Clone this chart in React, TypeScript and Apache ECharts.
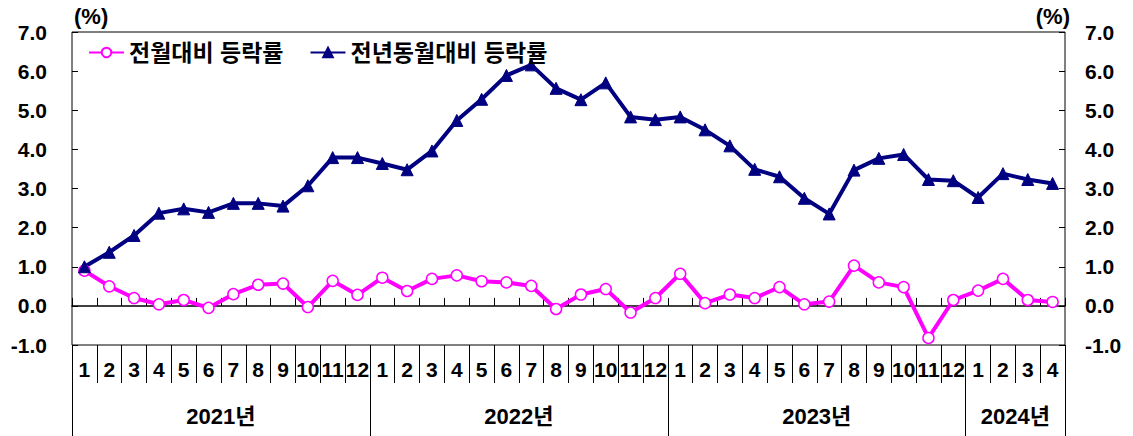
import React, { useEffect, useRef } from "react";
import * as echarts from "echarts";

const months: string[] = [
  "1","2","3","4","5","6","7","8","9","10","11","12",
  "1","2","3","4","5","6","7","8","9","10","11","12",
  "1","2","3","4","5","6","7","8","9","10","11","12",
  "1","2","3","4",
];
const yearLabels: string[] = ["2021년", "2022년", "2023년", "2024년"];
const yearCenters: number[] = [6, 18, 30, 38];
const yearBounds: number[] = [0, 12, 24, 36, 40];

const momChange: number[] = [
  0.9, 0.5, 0.2, 0.04, 0.15, -0.05, 0.3, 0.54, 0.57, -0.03, 0.64, 0.28,
  0.72, 0.38, 0.69, 0.78, 0.63, 0.6, 0.51, -0.08, 0.29, 0.43, -0.17, 0.2,
  0.82, 0.07, 0.29, 0.2, 0.48, 0.04, 0.11, 1.03, 0.6, 0.48, -0.82, 0.15,
  0.39, 0.69, 0.15, 0.1,
];
const yoyChange: number[] = [
  1.0, 1.37, 1.8, 2.37, 2.48, 2.39, 2.62, 2.62, 2.55, 3.07, 3.79, 3.79,
  3.64, 3.48, 3.96, 4.74, 5.28, 5.89, 6.16, 5.56, 5.27, 5.7, 4.83, 4.76,
  4.83, 4.5, 4.09, 3.49, 3.3, 2.75, 2.35, 3.47, 3.77, 3.87, 3.23, 3.2,
  2.77, 3.38, 3.23, 3.13,
];
const yTicks = { min: -1, max: 7, interval: 1 };

const FONT = '"Liberation Sans", Arial, "Noto Sans CJK KR", sans-serif';

export default function App() {
  const ref = useRef<HTMLDivElement>(null);
  useEffect(() => {
    document.body.style.margin = "0";
    if (!ref.current) return;
    const chart = echarts.init(ref.current, null, { renderer: "svg" });
    const yAxisBase = (pos: "left" | "right", margin: number) => ({
      type: "value",
      position: pos,
      min: yTicks.min,
      max: yTicks.max,
      interval: yTicks.interval,
      name: "(%)",
      nameLocation: "end",
      nameGap: 5,
      nameTextStyle: {
        fontFamily: FONT,
        fontWeight: "bold",
        fontSize: 22,
        color: "#000",
        align: pos === "left" ? "left" : "right",
        padding: pos === "left" ? [0, 0, 0, 2] : [0, -5, 0, 0],
      },
      axisLine: { show: false, onZero: false },
      axisTick: { show: true, inside: true, length: 6, lineStyle: { color: "#000" } },
      splitLine: { show: false },
      axisLabel: {
        margin: margin,
        fontFamily: FONT,
        fontWeight: "bold",
        fontSize: 21,
        color: "#000",
        formatter: (v: number) => v.toFixed(1),
      },
    });
    chart.setOption({
      animation: false,
      textStyle: { fontFamily: FONT },
      grid: {
        left: 72,
        right: 68,
        top: 32,
        bottom: 91,
        show: true,
        borderColor: "#000",
        borderWidth: 1,
      },
      legend: {
        left: 83,
        top: 36,
        itemWidth: 35,
        itemHeight: 12,
        itemGap: 26,
        textStyle: {
          fontFamily: FONT,
          fontWeight: "bold",
          fontSize: 23,
          color: "#000",
        },
        data: ["전월대비 등락률", "전년동월대비 등락률"],
      },
      xAxis: [
        {
          type: "category",
          data: months,
          position: "bottom",
          boundaryGap: true,
          axisLine: { show: true, onZero: true, lineStyle: { color: "#000", width: 1.5 } },
          axisTick: { show: true, inside: true, length: 8, lineStyle: { color: "#000" } },
          axisLabel: { show: false },
          splitLine: { show: false },
        },
        {
          type: "category",
          data: months,
          position: "bottom",
          boundaryGap: true,
          axisLine: { show: false, onZero: false },
          axisTick: { show: true, inside: false, length: 38, lineStyle: { color: "#000" } },
          axisLabel: {
            interval: 0,
            margin: 14,
            fontFamily: FONT,
            fontWeight: "bold",
            fontSize: 21,
            color: "#000",
          },
          splitLine: { show: false },
        },
        {
          type: "value",
          position: "bottom",
          offset: 38,
          min: 0,
          max: 40,
          axisLine: { show: false, onZero: false },
          axisTick: {
            show: true,
            inside: false,
            length: 60,
            customValues: yearBounds,
            lineStyle: { color: "#000" },
          },
          axisLabel: {
            show: true,
            customValues: yearCenters,
            margin: 22,
            fontFamily: FONT,
            fontWeight: "bold",
            fontSize: 22,
            color: "#000",
            formatter: (v: number) => yearLabels[yearCenters.indexOf(v)] ?? "",
          },
          splitLine: { show: false },
        },
      ],
      yAxis: [yAxisBase("left", 25), yAxisBase("right", 20)],
      series: [
        {
          name: "전월대비 등락률",
          type: "line",
          data: momChange,
          xAxisIndex: 0,
          yAxisIndex: 0,
          symbol: "circle",
          symbolSize: 11,
          lineStyle: { color: "#FF00FF", width: 4 },
          itemStyle: { color: "#FFFFFF", borderColor: "#FF00FF", borderWidth: 1.5 },
        },
        {
          name: "전년동월대비 등락률",
          type: "line",
          data: yoyChange,
          xAxisIndex: 0,
          yAxisIndex: 0,
          symbol: "triangle",
          symbolSize: 12,
          lineStyle: { color: "#000080", width: 4 },
          itemStyle: { color: "#000080", borderColor: "#000080", borderWidth: 1 },
        },
      ],
    });
    return () => chart.dispose();
  }, []);
  return <div ref={ref} style={{ width: 1133, height: 436 }} />;
}
